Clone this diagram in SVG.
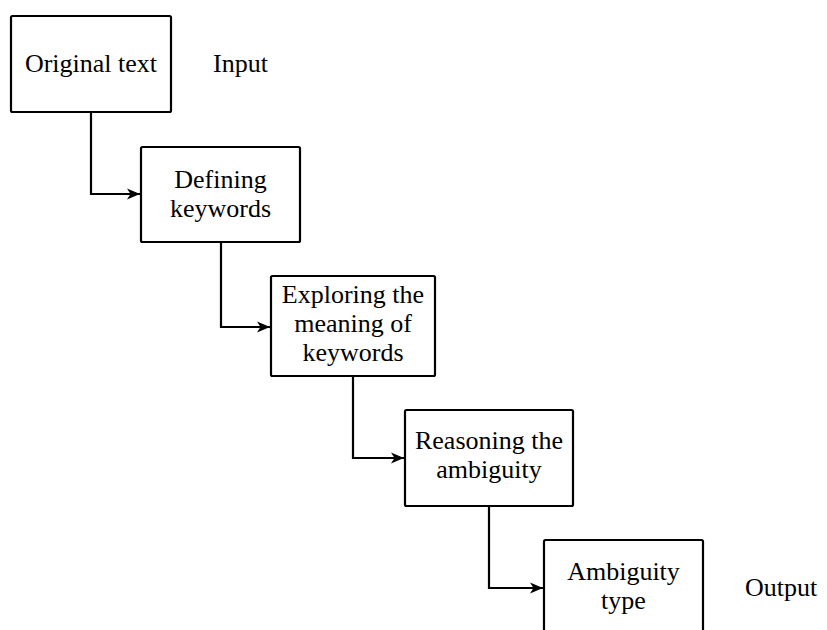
<svg xmlns="http://www.w3.org/2000/svg" width="827" height="630" viewBox="0 0 827 630">
  <style>
    .box { fill: #ffffff; stroke: #000000; stroke-width: 2.2; }
    .lbl { font-family: "Liberation Serif", "DejaVu Serif", serif; font-size: 26px; fill: #000000; text-anchor: middle; }
    .side { font-family: "Liberation Serif", "DejaVu Serif", serif; font-size: 26px; fill: #000000; }
    .conn { fill: none; stroke: #000000; stroke-width: 2.2; marker-end: url(#arrow); }
  </style>
  <defs>
    <marker id="arrow" markerWidth="14" markerHeight="12" refX="13" refY="6" orient="auto" markerUnits="userSpaceOnUse">
      <path d="M0,0.5 L13,6 L0,11.5 L3.5,6 Z" fill="#000000"/>
    </marker>
  </defs>
  <rect width="827" height="630" fill="#ffffff"/>

  <g id="connectors">
    <path class="conn" d="M91,112 V194 H140"/>
    <path class="conn" d="M221,242 V327 H270"/>
    <path class="conn" d="M353,376 V458 H404"/>
    <path class="conn" d="M489,506 V588 H543"/>
  </g>

  <g id="original-text">
    <rect class="box" x="11" y="16" width="160" height="96" rx="1.5"/>
    <text class="lbl" x="91" y="72">Original text</text>
  </g>
  <g id="input-label">
    <text class="side" x="213" y="72">Input</text>
  </g>

  <g id="defining-keywords">
    <rect class="box" x="141" y="147" width="159" height="95" rx="1.5"/>
    <text class="lbl" x="220.5" y="188">Defining</text>
    <text class="lbl" x="220.5" y="217">keywords</text>
  </g>

  <g id="exploring-meaning">
    <rect class="box" x="271" y="276" width="164" height="100" rx="1.5"/>
    <text class="lbl" x="353" y="303">Exploring the</text>
    <text class="lbl" x="353" y="332">meaning of</text>
    <text class="lbl" x="353" y="361">keywords</text>
  </g>

  <g id="reasoning-ambiguity">
    <rect class="box" x="405" y="410" width="168" height="96" rx="1.5"/>
    <text class="lbl" x="489" y="449">Reasoning the</text>
    <text class="lbl" x="489" y="478">ambiguity</text>
  </g>

  <g id="ambiguity-type">
    <rect class="box" x="544" y="540" width="159" height="96" rx="1.5"/>
    <text class="lbl" x="623.5" y="580">Ambiguity</text>
    <text class="lbl" x="623.5" y="609">type</text>
  </g>
  <g id="output-label">
    <text class="side" x="745" y="596">Output</text>
  </g>
</svg>
